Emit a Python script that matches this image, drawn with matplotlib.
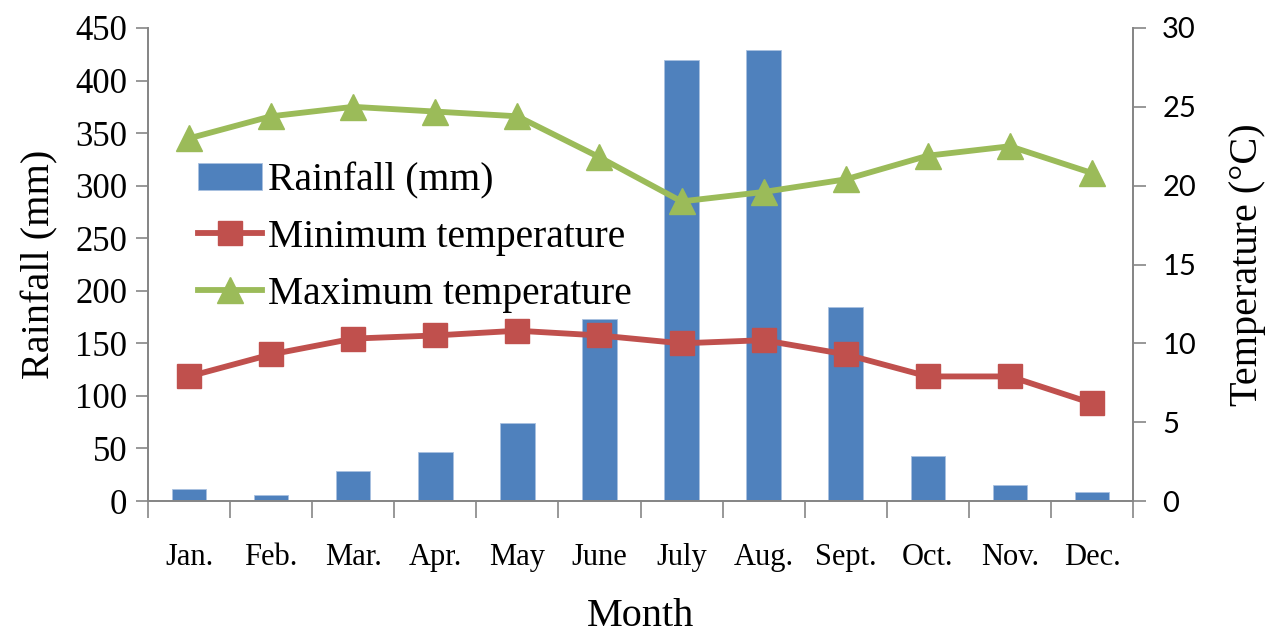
import matplotlib.pyplot as plt
import numpy as np

# Monthly climate data
months = ['Jan.', 'Feb.', 'Mar.', 'Apr.', 'May', 'June', 'July', 'Aug.', 'Sept.', 'Oct.', 'Nov.', 'Dec.']
rainfall = [11, 6, 29, 47, 74, 173, 420, 429, 185, 43, 15, 9]
min_temp = [7.9, 9.3, 10.3, 10.5, 10.8, 10.5, 10.0, 10.2, 9.3, 7.9, 7.9, 6.2]
max_temp = [23.0, 24.4, 25.0, 24.7, 24.4, 21.8, 19.0, 19.6, 20.4, 21.9, 22.5, 20.8]

serif = 'Liberation Serif'
gray = '#868686'

fig = plt.figure(figsize=(12.68, 6.35), dpi=100)
ax1 = fig.add_axes([148 / 1268, 1 - 501 / 635, (1133 - 148) / 1268, (501 - 28) / 635])
ax2 = ax1.twinx()

x = np.arange(len(months))
bars = ax1.bar(x, rainfall, width=0.42, color='#4F81BD', edgecolor='#a9c1e0', linewidth=0.6,
               label='Rainfall (mm)', zorder=2)
l1, = ax2.plot(x, min_temp, '-s', color='#C0504D', lw=4.2, ms=17, label='Minimum temperature')
l2, = ax2.plot(x, max_temp, '-^', color='#9BBB59', lw=4.2, ms=19, label='Maximum temperature')

ax1.set_xlim(-0.5, 11.5)
ax1.set_ylim(0, 450)
ax2.set_ylim(0, 30)
ax1.set_yticks(np.arange(0, 451, 50))
ax2.set_yticks(np.arange(0, 31, 5))

# month labels centred, tick marks on category boundaries
ax1.set_xticks(x)
ax1.set_xticklabels(months, fontfamily=serif, fontsize=22)
ax1.set_xticks(np.arange(-0.5, 12, 1), minor=True)
ax1.tick_params(axis='x', which='major', length=0, pad=30)
ax1.tick_params(axis='x', which='minor', length=12, width=1.2, color=gray, direction='out')
ax1.tick_params(axis='y', length=9, width=1.2, color=gray, direction='out', pad=6)
ax2.tick_params(axis='y', length=9, width=1.2, color=gray, direction='out', pad=12)
for lab in ax1.get_yticklabels():
    lab.set_fontfamily(serif)
    lab.set_fontsize(25)
for lab in ax2.get_yticklabels():
    lab.set_fontfamily('Lato')
    lab.set_fontsize(21)

for ax in (ax1, ax2):
    ax.spines['top'].set_visible(False)
    for s in ('left', 'right', 'bottom'):
        ax.spines[s].set_color(gray)
        ax.spines[s].set_linewidth(1.3)

ax1.set_ylabel('Rainfall (mm)', fontfamily=serif, fontsize=29, labelpad=12)
ax2.set_ylabel('Temperature (°C)', fontfamily=serif, fontsize=29, labelpad=24)
ax1.set_xlabel('Month', fontfamily=serif, fontsize=29, labelpad=19)

ax1.legend([bars, l1, l2], ['Rainfall (mm)', 'Minimum temperature', 'Maximum temperature'],
           loc='upper left', bbox_to_anchor=(0.035, 0.75), frameon=False,
           prop={'family': serif, 'size': 28.5}, handlelength=1.6, handletextpad=0.15,
           labelspacing=0.5, borderaxespad=0)

fig.savefig('out.png', dpi=100)
